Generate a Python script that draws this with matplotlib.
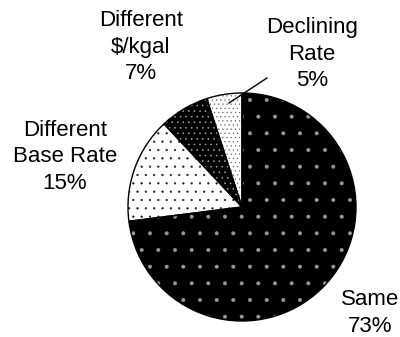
import matplotlib
matplotlib.use("Agg")
import matplotlib.pyplot as plt

labels = ["Declining\nRate", "Different\n$/kgal", "Different\nBase Rate", "Same"]
shares = [5, 7, 15, 73]

faces = ["white", "black", "white", "black"]
hatch_colors = ["#666666", "#aaaaaa", "#222222", "#999999"]
hatches = ["....", "...", "..", "."]

plt.rcParams["font.family"] = ["Liberation Sans", "DejaVu Sans"]
plt.rcParams["hatch.linewidth"] = 0.4

W, H = 400, 337
fig = plt.figure(figsize=(W / 100, H / 100), dpi=100)
ax = fig.add_axes([0, 0, 1, 1])

cx, cy, r = 242, H - 207, 114

wedges, _ = ax.pie(shares, colors=faces, startangle=90, counterclock=True,
                   center=(cx, cy), radius=r, wedgeprops=dict(linewidth=0))
for w, hc, h in zip(wedges, hatch_colors, hatches):
    w.set_hatch(h)
    w.set_edgecolor(hc)
    w.set_linewidth(0)

# outlines on top of the hatched fills
outl, _ = ax.pie(shares, startangle=90, counterclock=True, center=(cx, cy),
                 radius=r, wedgeprops=dict(fill=False, edgecolor="black",
                                           linewidth=1.0))

ax.set_xlim(0, W)
ax.set_ylim(0, H)
ax.set_aspect("equal")
ax.axis("off")

fs = 16
label_pos = [(312, 54), (141, 47), (65, 157), (370, 313)]
for lab, val, (x, y) in zip(labels, shares, label_pos):
    ax.text(x, H - y, f"{lab}\n{val}%", ha="center", va="center",
            fontsize=fs, linespacing=1.33)

# leader line for the small slice
ax.plot([267, 229], [H - 78, H - 103], color="black", linewidth=1)

fig.savefig("out.png", dpi=100)
